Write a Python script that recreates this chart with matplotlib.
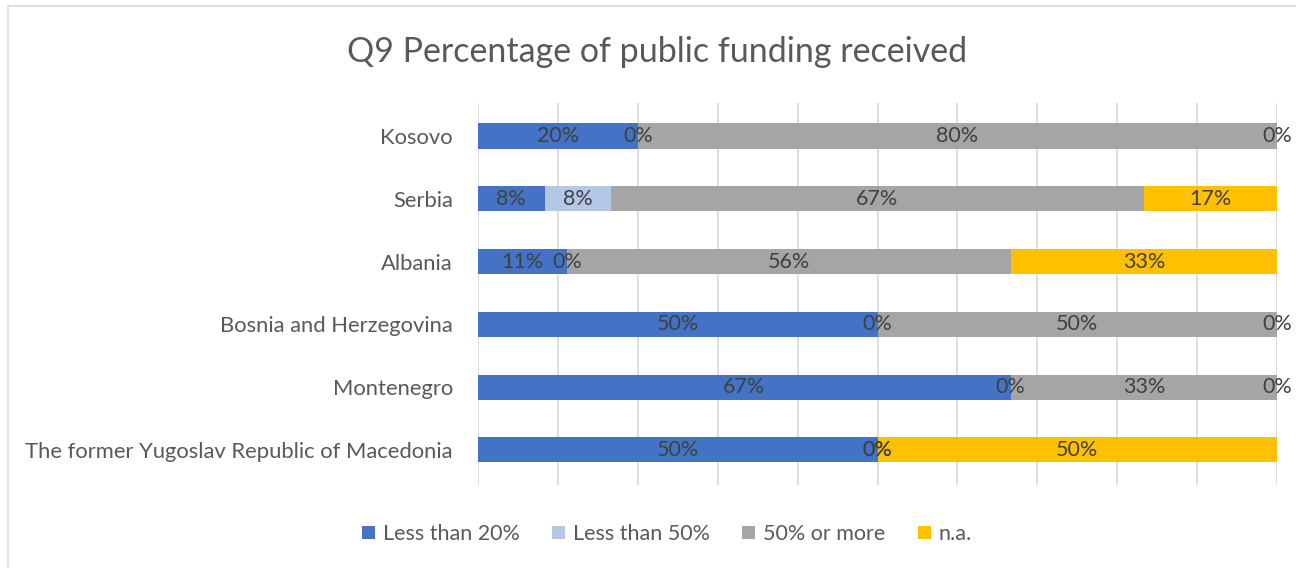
import matplotlib
matplotlib.use('Agg')
import matplotlib.pyplot as plt
from matplotlib.patches import Rectangle
import numpy as np

plt.rcParams['font.family'] = ['Lato', 'DejaVu Sans']

# data (shares per country, top to bottom)
countries = ['Kosovo', 'Serbia', 'Albania', 'Bosnia and Herzegovina',
             'Montenegro', 'The former Yugoslav Republic of Macedonia']
less_20 = [20.0, 8.33, 11.11, 50.0, 66.67, 50.0]
less_50 = [0.0, 8.33, 0.0, 0.0, 0.0, 0.0]
more_50 = [80.0, 66.67, 55.56, 50.0, 33.33, 0.0]
na = [0.0, 16.67, 33.33, 0.0, 0.0, 50.0]
series_names = ['Less than 20%', 'Less than 50%', '50% or more', 'n.a.']
colors = ['#4472C4', '#B4C7E7', '#A5A5A5', '#FFC000']

# which zero values still get a label (as in the original Excel chart)
show_zero = {
    'Less than 20%': [],
    'Less than 50%': [0, 2, 3, 4, 5],
    '50% or more': [5],
    'n.a.': [0, 3, 4],
}

fig = plt.figure(figsize=(12.96, 5.68), dpi=100)
ax = fig.add_axes([478 / 1296, 1 - 485 / 568, 799 / 1296, 382 / 568])

# chart frame
fig.patches.append(Rectangle((8 / 1296, -0.1), 1.2, (568 - 6) / 568 + 0.1,
                             transform=fig.transFigure, fill=False,
                             edgecolor='#D9D9D9', linewidth=1.2))

y = np.arange(len(countries))[::-1]
left = np.zeros(len(countries))
for name, vals, col in zip(series_names, [less_20, less_50, more_50, na], colors):
    vals = np.array(vals)
    ax.barh(y, vals, left=left, height=0.4, color=col, label=name, zorder=2)
    for i, v in enumerate(vals):
        if v == 0 and i not in show_zero[name]:
            continue
        ax.text(left[i] + v / 2, y[i], f'{v:.0f}%', ha='center', va='center',
                fontsize=15.5, color='#404040', zorder=3)
    left += vals

ax.set_xlim(0, 100)
ax.set_ylim(-0.56, 5.525)
ax.set_xticks(np.arange(0, 101, 10))
ax.set_xticklabels([])
ax.tick_params(axis='both', length=0)
ax.grid(axis='x', color='#D9D9D9', linewidth=1.2, zorder=0)
ax.set_axisbelow(True)
ax.set_yticks(y)
ax.set_yticklabels(countries, fontsize=15.8, color='#595959')
ax.tick_params(axis='y', pad=18)
for s in ax.spines.values():
    s.set_visible(False)

fig.text(657 / 1296, 1 - 52 / 568, 'Q9 Percentage of public funding received',
         ha='center', va='center', fontsize=24.5, color='#595959')

leg = fig.legend(loc='center', bbox_to_anchor=(667 / 1296, 1 - 534 / 568),
                 ncol=4, frameon=False, fontsize=15.5, handlelength=0.6,
                 handleheight=0.6, handletextpad=0.37, columnspacing=1.5)
for t in leg.get_texts():
    t.set_color('#595959')

fig.savefig('out.png', dpi=100)
